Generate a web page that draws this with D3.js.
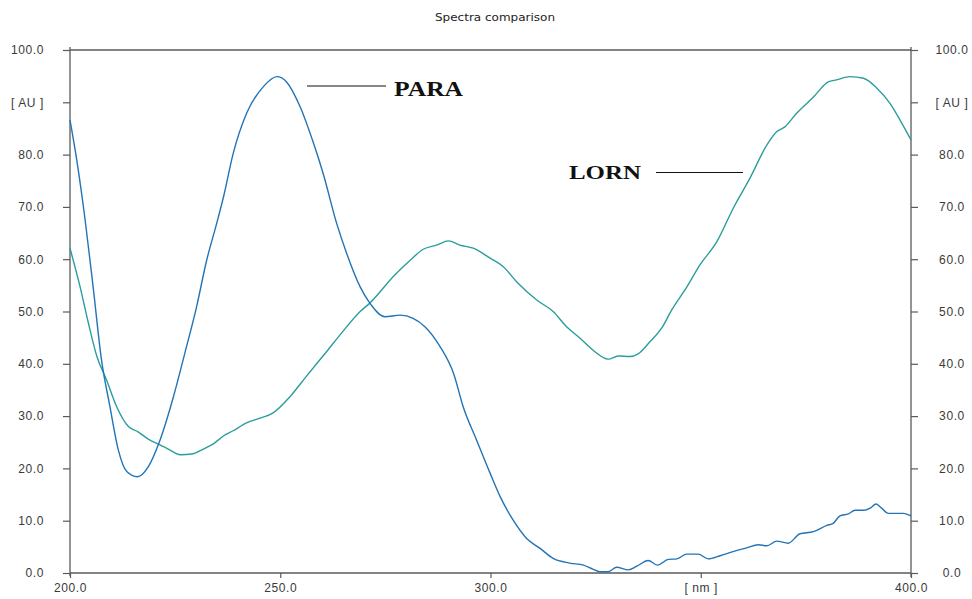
<!DOCTYPE html>
<html>
<head>
<meta charset="utf-8">
<script src="https://cdn.jsdelivr.net/npm/d3@7"></script>
<style>
  html, body { margin: 0; padding: 0; background: #fff; }
  svg { display: block; }
</style>
</head>
<body>
<svg id="chart" width="972" height="599"></svg>
<script>
// Wavelength (nm) and absorbance (AU) samples for each spectrum
const paraNm = [200, 201.6, 203.6, 205.5, 207.5, 209.5, 211.5, 213.5, 216.0, 218.6, 221.4, 224.6, 227.3, 230.1,
  232.5, 234.9, 236.5, 238.8, 242.0, 246.0, 249.2, 251.5, 254.7, 257.9, 260.2, 263.4, 265.8, 269.0, 271.3,
  274.9, 278.5, 281.6, 284.4, 288.0, 291.2, 293.5, 296.7, 299.9, 302.3, 305.4, 308.6, 311.8, 314.9, 318.9,
  322.1, 324.4, 326.0, 328.0, 330.0, 332.8, 334.8, 337.5, 339.7, 342.3, 344.3, 346.7, 349.4, 351.8, 354.6,
  357.7, 360.9, 363.7, 365.7, 368.1, 370.8, 373.6, 376.8, 380.0, 381.5, 383.1, 385.1, 386.7, 388.7, 390.3,
  391.7, 393.0, 394.6, 398.2, 400];
const paraAu = [86.6, 79.0, 67.5, 54.7, 40.7, 31.8, 23.5, 19.4, 18.4, 20.3, 25.4, 33.7, 42.0, 50.9,
  59.8, 66.9, 71.9, 80.2, 87.9, 93.0, 94.9, 93.9, 89.2, 82.2, 76.4, 66.9, 61.1, 54.7, 51.6,
  49.0, 49.3, 48.7, 47.1, 43.3, 38.2, 31.8, 25.4, 19.1, 14.6, 10.1, 6.6, 4.7, 2.8, 1.9,
  1.5, 0.7, 0.25, 0.25, 1.1, 0.6, 1.3, 2.4, 1.5, 2.6, 2.7, 3.6, 3.6, 2.7, 3.3,
  4.1, 4.8, 5.4, 5.2, 6.1, 5.7, 7.5, 7.9, 9.1, 9.5, 10.9, 11.3, 12.0, 12.0, 12.4,
  13.2, 12.4, 11.4, 11.4, 10.9];

const lornNm = [200, 202.4, 204.4, 206.4, 208.7, 211.1, 213.9, 216.2, 218.6, 221.4, 223.8, 226.2, 229.3,
  231.7, 234.1, 236.5, 238.8, 242.0, 245.2, 248.3, 252.3, 256.3, 261.0, 265.0, 269.0, 271.3, 276.9,
  280.9, 284.0, 287.2, 290.0, 292.7, 295.9, 299.9, 303.0, 306.2, 311.0, 314.9, 318.1, 321.3, 324.4,
  328.0, 330.4, 333.2, 335.1, 337.9, 340.7, 343.1, 346.7, 349.8, 353.8, 357.7, 361.7, 365.7, 368.1,
  370.0, 372.8, 376.8, 380.3, 382.3, 385.5, 388.7, 391.9, 395.0, 397.4, 400];
const lornAu = [62.1, 54.7, 47.7, 41.4, 36.9, 31.8, 28.0, 27.0, 25.6, 24.5, 23.5, 22.6, 22.8,
  23.7, 24.7, 26.2, 27.2, 28.7, 29.6, 30.6, 33.7, 37.7, 42.3, 46.3, 50.0, 51.6, 56.7,
  59.8, 61.9, 62.7, 63.5, 62.7, 62.1, 60.2, 58.6, 55.7, 52.2, 50.0, 47.1, 44.9, 42.6,
  40.9, 41.5, 41.4, 41.9, 44.2, 46.8, 50.3, 54.7, 58.9, 63.3, 69.7, 75.5, 81.8, 84.4,
  85.3, 87.9, 91.0, 93.9, 94.3, 94.9, 94.6, 92.7, 89.8, 86.6, 82.8];

// Axis tick values and their labels (unit labels replace one tick on each axis)
const xTicks = [200, 250, 300, 350, 400];
const xTickLabels = ["200.0", "250.0", "300.0", "[ nm ]", "400.0"];
const yTicks = [0, 10, 20, 30, 40, 50, 60, 70, 80, 90, 100];
const yTickLabels = ["0.0", "10.0", "20.0", "30.0", "40.0", "50.0", "60.0", "70.0", "80.0", "[ AU ]", "100.0"];

const seriesNames = ["PARA", "LORN"];
const chartTitle = "Spectra comparison";

const svg = d3.select("#chart");
const plotLeft = 70, plotRight = 911, plotTop = 50, plotBottom = 573;

const x = d3.scaleLinear().domain([200, 400]).range([plotLeft, plotRight]);
const y = d3.scaleLinear().domain([0, 100]).range([plotBottom, plotTop]);

const axisColor = "#5a5a5a";
const labelColor = "#3a3a3a";

// Title
svg.append("text")
  .attr("x", 495).attr("y", 21)
  .attr("text-anchor", "middle")
  .attr("font-family", "'DejaVu Sans', Arial, sans-serif")
  .attr("font-size", 10)
  .attr("textLength", 120)
  .attr("lengthAdjust", "spacingAndGlyphs")
  .attr("fill", "#222")
  .text(chartTitle);

// Axes
const xAxis = d3.axisBottom(x).tickValues(xTicks).tickSize(5)
  .tickFormat((d, i) => xTickLabels[i]);
const yAxisL = d3.axisLeft(y).tickValues(yTicks).tickSize(7)
  .tickFormat((d, i) => yTickLabels[i]);
const yAxisR = d3.axisRight(y).tickValues(yTicks).tickSize(7)
  .tickFormat((d, i) => yTickLabels[i]);

function styleAxis(g) {
  g.select(".domain").attr("stroke", axisColor).attr("stroke-width", 1.3);
  g.selectAll(".tick line").attr("stroke", axisColor).attr("stroke-width", 1.2);
  g.selectAll(".tick text")
    .attr("fill", labelColor)
    .attr("font-family", "'Liberation Sans', Arial, sans-serif")
    .attr("font-size", 12)
    .attr("letter-spacing", 0.6);
}

const gx = svg.append("g").attr("transform", `translate(0,${plotBottom})`).call(xAxis);
gx.call(styleAxis);
gx.select(".domain").attr("d", `M${plotLeft},0H${plotRight}`);
gx.selectAll(".tick text").attr("y", 19).attr("dy", 0);

const gl = svg.append("g").attr("transform", `translate(${plotLeft},0)`).call(yAxisL);
gl.call(styleAxis);
gl.select(".domain").attr("d", `M0,${plotTop - 3}V${plotBottom + 3}`);
gl.selectAll(".tick text").attr("x", -26);

const gr = svg.append("g").attr("transform", `translate(${plotRight},0)`).call(yAxisR);
gr.call(styleAxis);
gr.select(".domain").attr("d", `M0,${plotTop - 3}V${plotBottom + 4}`);
gr.selectAll(".tick text").attr("x", 41).attr("text-anchor", "middle");

// Top frame line
svg.append("line")
  .attr("x1", x(200)).attr("x2", x(400))
  .attr("y1", y(100)).attr("y2", y(100))
  .attr("stroke", axisColor).attr("stroke-width", 1.3);

// Spectra
const line = d3.line().curve(d3.curveMonotoneX);
const lornPts = lornNm.map((d, i) => [x(d), y(lornAu[i])]);
const paraPts = paraNm.map((d, i) => [x(d), y(paraAu[i])]);

svg.append("path")
  .attr("d", line(lornPts))
  .attr("fill", "none")
  .attr("stroke", "#2a9e9c")
  .attr("stroke-width", 1.4);

svg.append("path")
  .attr("d", line(paraPts))
  .attr("fill", "none")
  .attr("stroke", "#2274b6")
  .attr("stroke-width", 1.4);

// Series annotations with leader lines
const labelFont = "'Liberation Serif', 'Times New Roman', serif";
svg.append("line")
  .attr("x1", 307).attr("x2", 386).attr("y1", 86).attr("y2", 86)
  .attr("stroke", "#111").attr("stroke-width", 1.2);
svg.append("text")
  .attr("x", 394).attr("y", 96)
  .attr("font-family", labelFont).attr("font-weight", "bold")
  .attr("font-size", 20)
  .attr("textLength", 69).attr("lengthAdjust", "spacingAndGlyphs")
  .attr("fill", "#111")
  .text(seriesNames[0]);

svg.append("line")
  .attr("x1", 656).attr("x2", 743).attr("y1", 172.5).attr("y2", 172.5)
  .attr("stroke", "#111").attr("stroke-width", 1.2);
svg.append("text")
  .attr("x", 569).attr("y", 179)
  .attr("font-family", labelFont).attr("font-weight", "bold")
  .attr("font-size", 19)
  .attr("textLength", 72).attr("lengthAdjust", "spacingAndGlyphs")
  .attr("fill", "#111")
  .text(seriesNames[1]);
</script>
</body>
</html>
